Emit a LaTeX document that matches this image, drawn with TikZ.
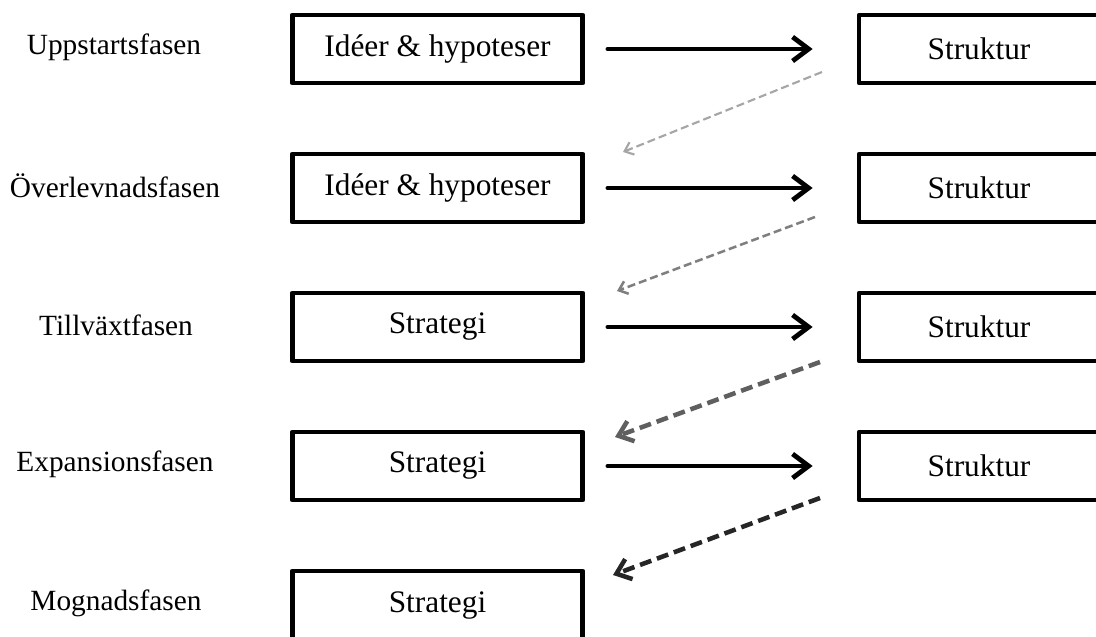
\documentclass[tikz,border=0pt]{standalone}
\usepackage{fontspec}
\setmainfont{Liberation Serif}
\usetikzlibrary{arrows.meta}
\definecolor{dashlight}{HTML}{A6A6A6}
\definecolor{dashmid}{HTML}{7F7F7F}
\definecolor{dashgrey}{HTML}{5F5F5F}
\definecolor{dashdark}{HTML}{262626}

\begin{document}
\begin{tikzpicture}[x=0.75pt, y=-0.75pt, line join=round,
    box/.style={draw, line width=3.6pt, minimum width=218pt, minimum height=51pt, font=\fontsize{23.5}{28}\selectfont},
    sbox/.style={box, minimum width=180pt},
    phase/.style={font=\fontsize{22}{26}\selectfont},
    flow/.style={line width=3.6pt, line cap=round, -{Straight Barb[length=12pt,width=18pt]}, shorten <=17pt, shorten >=33pt},
    back/.style={dashed, line cap=butt, -{Straight Barb[length=6pt,width=10pt]}}]
        \useasboundingbox (0,0) rectangle (1096,636);
        % phases
        \node[phase] (P1) at (114,47) {Uppstartsfasen};
        \node[phase] (P2) at (115,186) {Överlevnadsfasen};
        \node[phase] (P3) at (116,325) {Tillväxtfasen};
        \node[phase] (P4) at (115,464) {Expansionsfasen};
        \node[phase] (P5) at (116,603) {Mognadsfasen};
        % left column
        \node[box] (L1) at (437.5,49) {Idéer \& hypoteser};
        \node[box] (L2) at (437.5,188) {Idéer \& hypoteser};
        \node[box] (L3) at (437.5,327) {Strategi};
        \node[box] (L4) at (437.5,466) {Strategi};
        \node[box] (L5) at (437.5,605) {Strategi};
        % right column
        \node[sbox] (S1) at (979,49) {Struktur};
        \node[sbox] (S2) at (979,188) {Struktur};
        \node[sbox] (S3) at (979,327) {Struktur};
        \node[sbox] (S4) at (979,466) {Struktur};
        \draw[flow] (L1) -- (S1);
        \draw[flow] (L2) -- (S2);
        \draw[flow] (L3) -- (S3);
        \draw[flow] (L4) -- (S4);
        % feedback
        \coordinate (a1) at (822,72);  \coordinate (b1) at (623,152);
        \coordinate (a2) at (815,217); \coordinate (b2) at (617,291);
        \coordinate (a3) at (820,362); \coordinate (b3) at (615,437);
        \coordinate (a4) at (820,498); \coordinate (b4) at (613,575);
        \draw[back, dashlight, line width=1.6pt, dash pattern=on 6pt off 3pt] (a1) -- (b1);
        \draw[back, dashmid, line width=1.9pt, dash pattern=on 6pt off 3pt] (a2) -- (b2);
        \draw[back, dashgrey, line width=3.4pt, dash pattern=on 9pt off 4.5pt, -{Straight Barb[length=10pt,width=16pt]}] (a3) -- (b3);
        \draw[back, dashdark, line width=3.4pt, dash pattern=on 9pt off 4.5pt, -{Straight Barb[length=10pt,width=16pt]}] (a4) -- (b4);
    \end{tikzpicture}
\end{document}
